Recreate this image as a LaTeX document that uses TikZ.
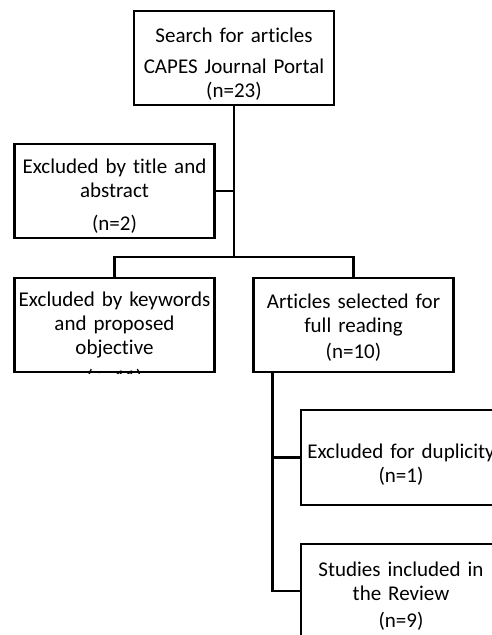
\documentclass[tikz,border=0pt]{standalone}
\usepackage{fontspec}
\setmainfont{Carlito}[Ligatures=NoCommon]
\usetikzlibrary{positioning}
\tikzset{>=latex}
\tikzset{box/.style={draw,line width=2.6pt,minimum width=197pt,minimum height=94pt,text width=200pt,align=center,inner sep=0pt,font=\fontsize{21}{24}\selectfont}}
\tikzset{link/.style={line width=2.6pt}}
\newcommand{\topgap}[1]{\rule{0pt}{#1}}

\begin{document}
\begin{tikzpicture}[x=1pt,y=-1pt]
  \useasboundingbox (0,0) rectangle (492,635);
  \clip (0,0) rectangle (492,635);
  % Boxes
  \node[box] (search) at (234,58) {\topgap{26pt}Search for articles\\[7pt]CAPES Journal Portal\\(n=23)};
  \node[box] (title) at (114.5,191) {\topgap{25pt}Excluded by title and\\abstract\\[9pt](n=2)};
  \node[box] (keyw) at (114.5,325) {Excluded by keywords\\and proposed\\objective};
  \node[box] (full) at (353.5,325) {\topgap{20pt}Articles selected for\\full reading\\[2pt](n=10)};
  \node[box,minimum width=194pt,minimum height=95pt] (dupl) at (401,457.5) {\topgap{28pt}Excluded for duplicity\\(n=1)};
  \node[box,minimum width=194pt] (incl) at (401,591) {\topgap{24pt}Studies included in\\the Review\\[3pt](n=9)};
  \begin{scope}
    \clip (keyw.south west) rectangle (keyw.north east);
    \node[font=\fontsize{21}{24}\selectfont,inner sep=0pt,anchor=north] (keywn) at (114.5,369) {(n=11)};
  \end{scope}
  % Lines
  \coordinate (split) at (234,257);
  \coordinate (trunk) at ([xshift=20pt]full.south west);
  \draw[link] (search.south) -- (split);
  \draw[link] (title.east) -- (title.east -| split);
  \draw[link] (keyw.north) |- (split) -| (full.north);
  \draw[link] (trunk) |- (dupl.west);
  \draw[link] (trunk) |- (incl.west);
\end{tikzpicture}
\end{document}
